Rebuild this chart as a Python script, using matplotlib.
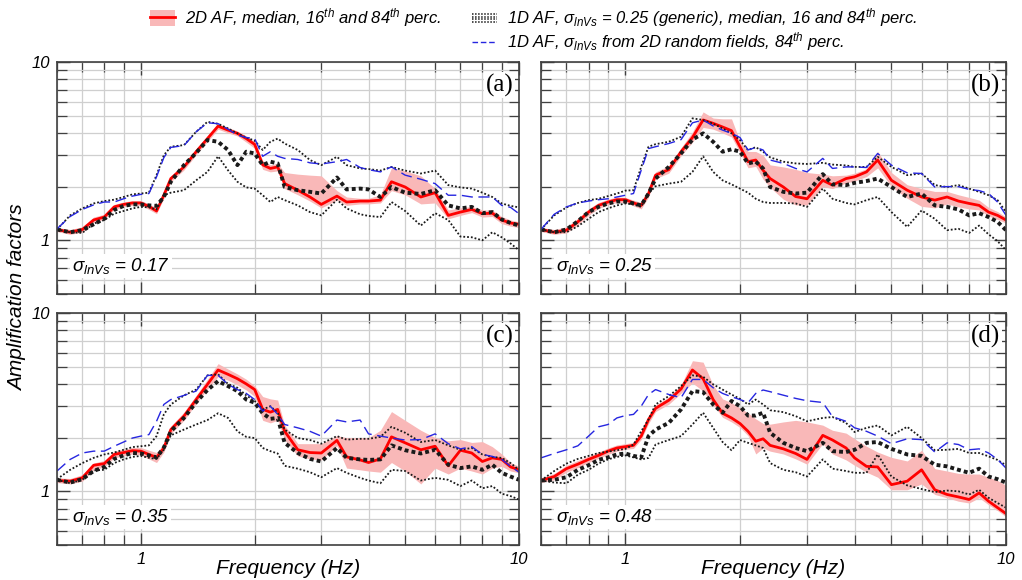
import matplotlib
matplotlib.use('Agg')
import matplotlib.pyplot as plt
from matplotlib.lines import Line2D
from matplotlib.patches import Patch
from matplotlib.legend_handler import HandlerBase, HandlerTuple
from matplotlib.ticker import FixedLocator, NullFormatter
from matplotlib import font_manager as fm

# ---------------- data ----------------
freq = [0.6, 0.65, 0.7, 0.75, 0.8, 0.85, 0.9, 0.95, 1.0, 1.05, 1.1, 1.15, 1.2, 1.3, 1.4,
        1.5, 1.6, 1.7, 1.8, 1.9, 2.0, 2.1, 2.2, 2.3, 2.4, 2.6, 2.8, 3.0, 3.3, 3.5,
        3.8, 4.0, 4.3, 4.6, 5.0, 5.5, 6.0, 6.5, 7.0, 7.5, 8.0, 8.5, 9.0, 9.5, 10.0]

panel_tags = ['(a)', '(b)', '(c)', '(d)']
sigma_lnvs = ['0.17', '0.25', '0.35', '0.48']

# panel (a)
a_2d_med = [1.15, 1.11, 1.15, 1.30, 1.35, 1.54, 1.59, 1.62, 1.62, 1.55, 1.46, 1.79, 2.22, 2.58, 3.14,
            3.72, 4.37, 4.15, 3.98, 3.72, 3.45, 2.65, 2.53, 2.58, 2.08, 1.91, 1.75, 1.59, 1.77, 1.64,
            1.66, 1.66, 1.68, 2.13, 1.99, 1.75, 1.85, 1.38, 1.44, 1.49, 1.41, 1.42, 1.30, 1.25, 1.23]
a_2d_p84 = [1.18, 1.15, 1.19, 1.35, 1.40, 1.59, 1.64, 1.67, 1.67, 1.60, 1.52, 1.86, 2.30, 2.66, 3.25,
            3.85, 4.50, 4.30, 4.10, 3.85, 3.58, 2.80, 2.65, 2.70, 2.40, 2.35, 2.32, 2.30, 1.90, 1.75,
            1.72, 1.72, 1.80, 2.55, 2.45, 2.30, 1.95, 1.48, 1.52, 1.55, 1.48, 1.48, 1.36, 1.30, 1.27]
a_2d_p16 = [1.12, 1.08, 1.11, 1.26, 1.31, 1.49, 1.54, 1.57, 1.57, 1.49, 1.41, 1.72, 2.13, 2.48, 3.02,
            3.58, 4.20, 4.00, 3.85, 3.55, 3.28, 2.50, 2.42, 2.45, 1.95, 1.80, 1.66, 1.52, 1.68, 1.57,
            1.60, 1.60, 1.62, 1.90, 1.80, 1.60, 1.62, 1.32, 1.38, 1.43, 1.35, 1.36, 1.24, 1.20, 1.18]
a_1d_med = [1.15, 1.11, 1.14, 1.23, 1.32, 1.48, 1.56, 1.59, 1.59, 1.57, 1.56, 1.75, 2.13, 2.64, 3.09,
            3.65, 3.57, 3.21, 2.64, 3.14, 3.07, 2.64, 2.76, 2.70, 1.99, 1.91, 1.87, 1.83, 2.25, 1.93,
            1.95, 1.93, 1.75, 1.99, 1.85, 1.82, 1.91, 1.57, 1.51, 1.54, 1.42, 1.44, 1.31, 1.25, 1.21]
a_1d_p84 = [1.15, 1.38, 1.51, 1.61, 1.66, 1.69, 1.75, 1.81, 1.83, 1.85, 2.32, 3.00, 3.35, 3.42, 4.06,
            4.62, 4.50, 4.24, 3.98, 3.77, 3.62, 3.21, 3.57, 3.72, 3.49, 3.21, 2.82, 2.64, 2.94, 2.64,
            2.53, 2.51, 2.46, 2.58, 2.46, 2.37, 2.46, 2.04, 1.98, 1.95, 1.85, 1.75, 1.61, 1.56, 1.53]
a_1d_p16 = [1.15, 1.11, 1.10, 1.24, 1.30, 1.41, 1.46, 1.51, 1.54, 1.53, 1.49, 1.79, 1.85, 1.91, 2.17,
            2.42, 2.96, 2.47, 2.13, 1.98, 1.95, 1.79, 1.64, 1.75, 1.68, 1.57, 1.44, 1.38, 1.69, 1.51,
            1.40, 1.37, 1.35, 1.64, 1.46, 1.21, 1.42, 1.30, 1.05, 1.04, 1.00, 1.11, 1.04, 0.96, 0.88]
a_1d_rf84 = [1.16, 1.36, 1.49, 1.58, 1.64, 1.64, 1.71, 1.77, 1.81, 1.83, 2.27, 2.91, 3.32, 3.40, 4.06,
             4.56, 4.51, 4.20, 3.89, 3.77, 3.72, 2.96, 3.14, 2.96, 2.88, 2.84, 2.72, 2.68, 2.76, 2.84,
             2.56, 2.49, 2.42, 2.58, 2.32, 2.20, 2.08, 1.79, 1.79, 1.75, 1.75, 1.75, 1.57, 1.53, 1.41]

# panel (b)
b_2d_med = [1.15, 1.11, 1.14, 1.27, 1.44, 1.57, 1.64, 1.69, 1.69, 1.62, 1.57, 1.83, 2.32, 2.49, 3.14,
            3.77, 4.73, 4.53, 4.32, 4.12, 3.35, 2.76, 2.82, 2.47, 2.22, 1.99, 1.76, 1.71, 2.17, 2.04,
            2.22, 2.27, 2.42, 2.82, 2.17, 1.91, 1.75, 1.68, 1.75, 1.66, 1.61, 1.57, 1.44, 1.38, 1.30]
b_2d_p84 = [1.18, 1.15, 1.19, 1.33, 1.50, 1.63, 1.70, 1.75, 1.74, 1.68, 1.63, 1.92, 2.42, 2.62, 3.30,
            4.05, 5.25, 4.85, 4.80, 4.80, 3.60, 3.15, 3.15, 3.00, 2.65, 2.58, 2.50, 2.40, 2.35, 2.30,
            2.32, 2.38, 2.52, 3.15, 2.40, 2.05, 1.95, 1.88, 1.88, 1.80, 1.74, 1.68, 1.53, 1.45, 1.35]
b_2d_p16 = [1.12, 1.08, 1.10, 1.22, 1.38, 1.51, 1.58, 1.63, 1.63, 1.56, 1.50, 1.75, 2.22, 2.38, 2.98,
            3.55, 4.30, 4.20, 4.00, 3.80, 3.10, 2.55, 2.60, 2.20, 1.98, 1.70, 1.58, 1.58, 2.00, 1.95,
            2.10, 2.15, 2.28, 2.55, 2.00, 1.72, 1.55, 1.52, 1.60, 1.54, 1.50, 1.48, 1.37, 1.31, 1.25]
b_1d_med = [1.15, 1.11, 1.15, 1.28, 1.44, 1.54, 1.61, 1.65, 1.65, 1.61, 1.57, 1.83, 2.22, 2.58, 3.07,
            3.67, 3.98, 3.57, 3.14, 3.24, 3.14, 2.70, 2.76, 2.53, 1.99, 1.87, 1.83, 1.85, 2.35, 2.06,
            2.04, 2.10, 2.15, 2.22, 1.99, 1.75, 1.83, 1.57, 1.54, 1.49, 1.38, 1.42, 1.35, 1.27, 1.14]
b_1d_p84 = [1.15, 1.38, 1.53, 1.62, 1.68, 1.71, 1.77, 1.83, 1.90, 1.91, 2.58, 3.35, 3.46, 3.57, 3.81,
            4.83, 4.73, 4.51, 4.24, 3.98, 3.65, 3.21, 3.33, 3.14, 2.92, 2.76, 2.70, 2.68, 2.72, 2.66,
            2.63, 2.58, 2.58, 2.94, 2.58, 2.32, 2.37, 2.04, 1.99, 2.04, 1.95, 1.87, 1.79, 1.68, 1.44]
b_1d_p16 = [1.15, 1.11, 1.11, 1.20, 1.32, 1.44, 1.51, 1.57, 1.61, 1.59, 1.54, 1.83, 2.01, 2.08, 2.13,
            2.42, 2.96, 2.42, 2.17, 2.06, 1.95, 1.85, 1.71, 1.64, 1.62, 1.62, 1.61, 1.54, 1.95, 1.71,
            1.62, 1.59, 1.68, 1.75, 1.44, 1.19, 1.47, 1.32, 1.14, 1.16, 1.10, 1.21, 1.08, 0.99, 0.88]
b_1d_rf84 = [1.15, 1.40, 1.54, 1.62, 1.66, 1.69, 1.71, 1.75, 1.79, 1.83, 2.47, 3.27, 3.35, 3.49, 3.67,
             4.56, 4.73, 4.38, 4.15, 3.98, 3.77, 3.21, 3.32, 3.21, 2.82, 2.70, 2.53, 2.42, 2.88, 2.53,
             2.58, 2.58, 2.56, 3.07, 2.64, 2.39, 2.37, 1.99, 2.00, 2.00, 1.93, 1.90, 1.83, 1.64, 1.38]

# panel (c)
c_2d_med = [1.15, 1.14, 1.19, 1.40, 1.43, 1.61, 1.65, 1.69, 1.68, 1.61, 1.55, 1.75, 2.22, 2.64, 3.27,
            3.98, 4.79, 4.53, 4.28, 4.00, 3.72, 2.88, 2.78, 2.88, 2.17, 1.71, 1.65, 1.64, 1.93, 1.56,
            1.50, 1.45, 1.52, 2.02, 1.87, 1.71, 1.79, 1.39, 1.70, 1.64, 1.47, 1.54, 1.51, 1.37, 1.32]
c_2d_p84 = [1.19, 1.18, 1.24, 1.44, 1.49, 1.68, 1.72, 1.76, 1.76, 1.70, 1.65, 1.84, 2.32, 2.78, 3.45,
            4.25, 5.20, 4.85, 4.55, 4.25, 3.90, 3.40, 3.30, 3.25, 2.35, 1.85, 1.85, 1.85, 2.05, 2.00,
            2.00, 2.00, 2.20, 2.80, 2.50, 2.20, 2.00, 1.92, 1.95, 1.88, 1.90, 1.78, 1.62, 1.45, 1.38]
c_2d_p16 = [1.12, 1.10, 1.14, 1.32, 1.37, 1.54, 1.58, 1.62, 1.60, 1.52, 1.45, 1.66, 2.10, 2.50, 3.10,
            3.75, 4.40, 4.20, 3.95, 3.70, 3.40, 2.50, 2.42, 2.50, 1.95, 1.58, 1.52, 1.50, 1.80, 1.35,
            1.32, 1.30, 1.28, 1.45, 1.30, 1.10, 1.35, 1.25, 1.35, 1.30, 1.25, 1.35, 1.38, 1.30, 1.27]
c_1d_med = [1.16, 1.12, 1.17, 1.30, 1.37, 1.52, 1.59, 1.64, 1.63, 1.59, 1.55, 1.76, 2.17, 2.58, 3.16,
            3.70, 4.15, 3.89, 3.65, 3.27, 3.14, 2.74, 2.55, 2.58, 1.87, 1.64, 1.52, 1.47, 1.75, 1.54,
            1.51, 1.50, 1.51, 1.81, 1.70, 1.63, 1.71, 1.41, 1.35, 1.38, 1.32, 1.41, 1.27, 1.21, 1.16]
c_1d_p84 = [1.17, 1.32, 1.44, 1.54, 1.61, 1.65, 1.71, 1.77, 1.79, 1.81, 2.04, 2.70, 3.07, 3.45, 3.72,
            4.47, 4.53, 4.00, 3.81, 3.45, 3.21, 2.88, 3.00, 2.76, 2.22, 1.99, 1.94, 1.85, 2.04, 1.95,
            1.97, 1.97, 2.02, 2.30, 2.13, 1.89, 1.94, 1.81, 1.71, 1.75, 1.61, 1.56, 1.54, 1.44, 1.32]
c_1d_p16 = [1.16, 1.11, 1.16, 1.31, 1.32, 1.44, 1.51, 1.56, 1.58, 1.54, 1.52, 1.71, 2.06, 2.22, 2.37,
            2.51, 2.74, 2.58, 2.17, 2.02, 1.99, 1.75, 1.68, 1.63, 1.39, 1.34, 1.28, 1.20, 1.35, 1.27,
            1.19, 1.15, 1.11, 1.32, 1.30, 1.15, 1.19, 1.16, 1.07, 1.15, 1.04, 1.07, 0.97, 0.94, 0.90]
c_1d_rf84 = [1.30, 1.51, 1.64, 1.68, 1.68, 1.79, 1.89, 1.99, 2.04, 2.08, 2.47, 3.07, 3.27, 3.45, 3.65,
             4.47, 4.47, 3.98, 3.72, 3.54, 3.27, 2.82, 3.00, 2.70, 2.37, 2.27, 2.17, 2.04, 2.51, 2.45,
             2.51, 2.10, 2.04, 1.99, 1.94, 1.95, 2.10, 1.85, 1.73, 1.78, 1.61, 1.57, 1.51, 1.38, 1.28]

# panel (d)
d_2d_med = [1.15, 1.21, 1.34, 1.42, 1.51, 1.59, 1.68, 1.75, 1.78, 1.81, 2.04, 2.53, 2.92, 3.24, 3.75,
            4.79, 4.28, 3.27, 2.74, 2.58, 2.40, 2.17, 1.91, 1.97, 1.81, 1.73, 1.63, 1.51, 2.06, 1.94,
            1.75, 1.54, 1.38, 1.37, 1.09, 1.14, 1.32, 1.02, 0.96, 0.93, 0.90, 0.98, 0.88, 0.81, 0.75]
d_2d_p84 = [1.19, 1.26, 1.40, 1.49, 1.58, 1.66, 1.75, 1.82, 1.85, 1.88, 2.12, 2.62, 3.05, 3.38, 3.95,
            5.40, 5.30, 3.95, 3.30, 3.14, 2.94, 2.75, 2.55, 2.40, 2.38, 2.45, 2.50, 2.45, 2.35, 2.20,
            2.12, 1.97, 1.79, 1.66, 1.55, 1.48, 1.70, 1.34, 1.30, 1.26, 1.25, 1.25, 1.20, 1.15, 1.08]
d_2d_p16 = [1.12, 1.16, 1.28, 1.36, 1.45, 1.53, 1.61, 1.68, 1.72, 1.74, 1.95, 2.40, 2.80, 3.08, 3.55,
            4.05, 3.65, 3.05, 2.60, 2.45, 2.28, 2.05, 1.62, 1.75, 1.68, 1.62, 1.52, 1.42, 1.85, 1.62,
            1.50, 1.40, 1.28, 1.20, 1.02, 1.02, 1.10, 0.96, 0.92, 0.88, 0.86, 0.92, 0.84, 0.78, 0.72]
d_1d_med = [1.15, 1.16, 1.20, 1.32, 1.40, 1.50, 1.55, 1.61, 1.63, 1.58, 1.55, 2.04, 2.22, 2.42, 2.88,
            3.65, 3.60, 3.07, 2.76, 3.21, 3.00, 2.66, 2.66, 2.76, 2.13, 1.87, 1.75, 1.68, 1.87, 1.68,
            1.66, 1.71, 1.87, 1.89, 1.73, 1.61, 1.58, 1.41, 1.38, 1.32, 1.27, 1.34, 1.21, 1.17, 1.12]
d_1d_p84 = [1.15, 1.30, 1.43, 1.52, 1.58, 1.64, 1.67, 1.70, 1.73, 1.83, 2.17, 2.53, 3.07, 3.42, 3.89,
            4.47, 4.39, 3.98, 3.72, 3.49, 3.30, 3.07, 3.27, 3.07, 2.85, 2.78, 2.64, 2.47, 2.58, 2.61,
            2.42, 2.15, 2.27, 2.34, 2.06, 2.30, 1.99, 1.70, 1.71, 1.73, 1.64, 1.64, 1.57, 1.50, 1.40]
d_1d_p16 = [1.15, 1.12, 1.11, 1.24, 1.32, 1.43, 1.51, 1.56, 1.59, 1.55, 1.51, 1.54, 1.83, 1.94, 2.04,
            2.37, 2.76, 2.27, 1.89, 1.70, 1.94, 1.87, 1.81, 1.75, 1.44, 1.32, 1.28, 1.21, 1.51, 1.34,
            1.30, 1.27, 1.27, 1.61, 1.21, 1.08, 1.03, 0.99, 1.01, 1.00, 0.96, 1.02, 0.92, 0.86, 0.81]
d_1d_rf84 = [1.54, 1.63, 1.71, 1.80, 2.04, 2.30, 2.37, 2.58, 2.66, 2.70, 3.00, 3.49, 3.72, 3.49, 3.35,
             4.24, 4.24, 3.81, 3.54, 3.39, 3.27, 3.14, 3.54, 3.70, 3.62, 3.46, 3.32, 3.22, 3.15, 2.62,
             2.47, 2.27, 2.17, 2.04, 1.85, 1.97, 1.95, 1.66, 1.87, 1.83, 1.71, 1.73, 1.64, 1.51, 1.35]

legend_labels = [r'2D AF, median, 16$^{th}$ and 84$^{th}$ perc.',
                 r'1D AF, $\mathrm{\sigma}_{lnVs}$ = 0.25 (generic), median, 16 and 84$^{th}$ perc.',
                 r'1D AF, $\mathrm{\sigma}_{lnVs}$ from 2D random fields, 84$^{th}$ perc.']

# ---------------- style ----------------
names = {f.name for f in fm.fontManager.ttflist}
SANS = 'Liberation Sans' if 'Liberation Sans' in names else 'DejaVu Sans'
SERIF = 'Liberation Serif' if 'Liberation Serif' in names else 'DejaVu Serif'
plt.rcParams['font.family'] = [SANS, 'DejaVu Sans']
plt.rcParams['font.style'] = 'italic'
plt.rcParams['mathtext.fontset'] = 'custom'
plt.rcParams['mathtext.rm'] = SANS
plt.rcParams['mathtext.it'] = SANS + ':italic'
plt.rcParams['mathtext.bf'] = SANS + ':bold'

RED = '#ff0000'
PINK = '#f9b8b8'
BLUE = '#2626e0'
BLK = '#1a1a1a'
GRID = '#cfcfcf'
SPINE = '#404040'

W, H = 1022, 580
fig = plt.figure(figsize=(W / 100, H / 100), dpi=100)

rects_px = [(57, 62, 519, 294), (541, 62, 1006, 294), (57, 313, 519, 545), (541, 313, 1006, 545)]

panels = [
    (a_2d_med, a_2d_p16, a_2d_p84, a_1d_med, a_1d_p16, a_1d_p84, a_1d_rf84),
    (b_2d_med, b_2d_p16, b_2d_p84, b_1d_med, b_1d_p16, b_1d_p84, b_1d_rf84),
    (c_2d_med, c_2d_p16, c_2d_p84, c_1d_med, c_1d_p16, c_1d_p84, c_1d_rf84),
    (d_2d_med, d_2d_p16, d_2d_p84, d_1d_med, d_1d_p16, d_1d_p84, d_1d_rf84),
]

for i, (rect, data) in enumerate(zip(rects_px, panels)):
    l, t, r, b = rect
    ax = fig.add_axes([l / W, 1 - b / H, (r - l) / W, (b - t) / H])
    med2, p16_2, p84_2, med1, p16_1, p84_1, rf84 = data
    ax.fill_between(freq, p16_2, p84_2, color=PINK, lw=0, zorder=2)
    ax.plot(freq, med2, color=RED, lw=2.0, zorder=4)
    ax.plot(freq, p84_1, color=BLK, lw=1.3, ls=(0, (1, 1.1)), zorder=5)
    ax.plot(freq, p16_1, color=BLK, lw=1.3, ls=(0, (1, 1.1)), zorder=5)
    ax.plot(freq, med1, color=BLK, lw=2.8, ls=(0, (1, 0.8)), zorder=5)
    ax.plot(freq, rf84, color=BLUE, lw=1.0, ls=(0, (8, 4)), zorder=6)

    ax.set_xscale('log')
    ax.set_yscale('log')
    ax.set_xlim(0.6, 10)
    ax.set_ylim(0.5, 10)
    ax.xaxis.set_major_locator(FixedLocator([1, 10]))
    ax.xaxis.set_minor_locator(FixedLocator([0.6, 0.7, 0.8, 0.9, 2, 3, 4, 5, 6, 7, 8, 9]))
    ax.yaxis.set_major_locator(FixedLocator([1, 10]))
    ax.yaxis.set_minor_locator(FixedLocator([0.5, 0.6, 0.7, 0.8, 0.9, 2, 3, 4, 5, 6, 7, 8, 9]))
    ax.xaxis.set_minor_formatter(NullFormatter())
    ax.yaxis.set_minor_formatter(NullFormatter())
    if i >= 2:
        ax.set_xticklabels(['1', '10'])
        ax.set_xlabel('Frequency (Hz)', fontsize=15)
        ax.xaxis.set_label_coords(0.5, -0.06)
    else:
        ax.set_xticklabels([])
    if i % 2 == 0:
        ax.set_yticklabels(['1', '10'])
    else:
        ax.set_yticklabels([])

    ax.grid(True, which='both', color=GRID, lw=0.9, zorder=0)
    ax.set_axisbelow(True)
    ax.tick_params(which='both', direction='in', top=True, right=True, color=SPINE,
                   labelsize=12, pad=5)
    ax.tick_params(which='major', length=9, width=1.0)
    ax.tick_params(which='minor', length=7, width=0.9)
    for sp in ax.spines.values():
        sp.set_color(SPINE)
        sp.set_linewidth(1.2)
        sp.set_zorder(10)

    ax.text(0.988, 0.90, panel_tags[i], transform=ax.transAxes, ha='right', va='center',
            fontsize=18, family=[SERIF], style='normal', zorder=12,
            bbox=dict(facecolor='white', edgecolor='none', pad=1.0))
    ax.text(0.032, 0.099, r'$\mathrm{\sigma}_{lnVs}$ = ' + sigma_lnvs[i], transform=ax.transAxes,
            ha='left', va='baseline', fontsize=13.5, zorder=12,
            bbox=dict(facecolor='white', edgecolor='none', pad=1.5))

fig.text(18 / W, 1 - 298 / H, 'Amplification factors', rotation=90, ha='center', va='center',
         fontsize=15)

# ---------------- legend ----------------
class StackKey:
    pass


class HandlerStack(HandlerBase):
    def create_artists(self, legend, orig_handle, xdescent, ydescent, width, height, fontsize, trans):
        arts = []
        for frac in (0.1, 0.37, 0.63, 0.9):
            y = -ydescent + frac * height
            ln = Line2D([-xdescent, -xdescent + width], [y, y], color=BLK, lw=1.1,
                        ls=(0, (1, 1)))
            ln.set_transform(trans)
            arts.append(ln)
        return arts


h1 = (Patch(facecolor=PINK, edgecolor='none'), Line2D([], [], color=RED, lw=2.0))
h2 = StackKey()
h3 = Line2D([], [], color=BLUE, lw=1.0, ls=(0, (4, 2)))

common = dict(frameon=False, fontsize=12, borderpad=0, borderaxespad=0, loc='center left',
              handlelength=1.5, handletextpad=0.6)
fig.legend([h1], [legend_labels[0]], bbox_to_anchor=(150 / W, 1 - 18 / H),
           handleheight=1.08, handler_map={tuple: HandlerTuple(ndivide=1)}, **common)
fig.legend([h2], [legend_labels[1]], bbox_to_anchor=(472 / W, 1 - 18 / H),
           handleheight=0.55, handler_map={StackKey: HandlerStack()}, **common)
fig.legend([h3], [legend_labels[2]], bbox_to_anchor=(472 / W, 1 - 42 / H), **common)

fig.savefig('out.png', dpi=100)
